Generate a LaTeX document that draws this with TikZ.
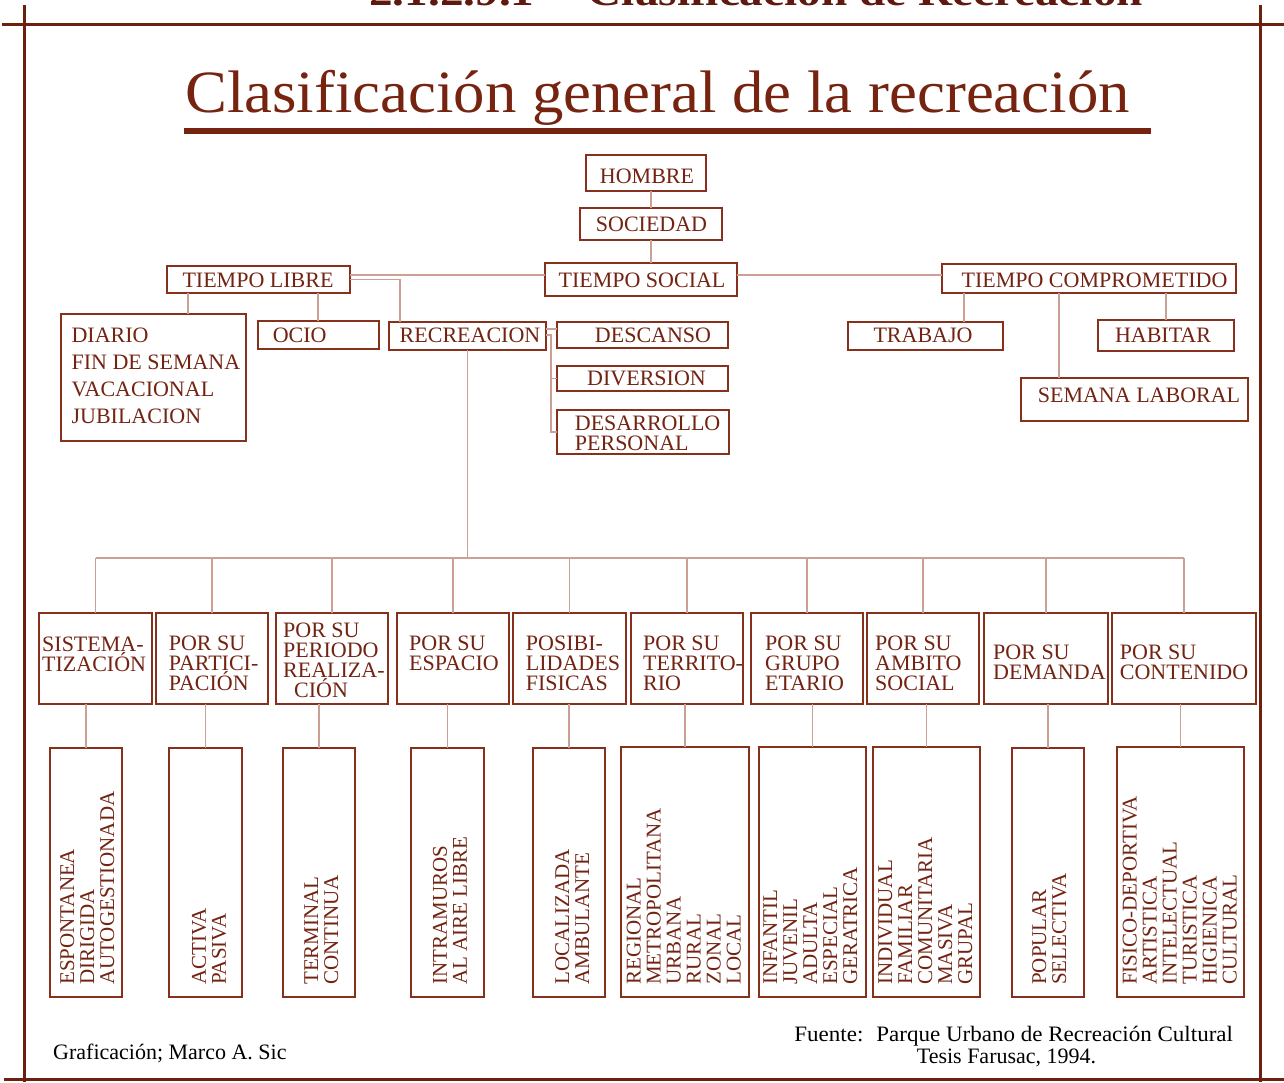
\documentclass[tikz,border=0pt]{standalone}
\usepackage{fontspec}
\setmainfont{Liberation Serif}
\newfontfamily\titlefont{Liberation Serif}[FakeStretch=1.046]
\newfontfamily\headfont{Liberation Serif}[FakeStretch=1.18]
\usetikzlibrary{fit}
\definecolor{framec}{RGB}{110,32,14}
\definecolor{titlec}{RGB}{118,36,16}
\definecolor{headc}{RGB}{95,25,15}
\definecolor{boxc}{RGB}{135,48,28}
\definecolor{txtc}{RGB}{115,35,18}
\definecolor{connc}{RGB}{205,160,150}
\begin{document}
\begin{tikzpicture}[x=1pt,y=-1pt,
  boxn/.style={draw=boxc, line width=1.9pt, inner sep=0pt, outer sep=0pt},
  conn/.style={draw=connc, line width=1.3pt},
  lbl/.style={text=txtc, inner sep=0pt, font=\fontsize{22}{20}\selectfont},
  cattxt/.style={lbl, align=left, anchor=north west},
  leaf/.style={text=txtc, inner sep=0pt, font=\fontsize{21}{20}\selectfont, align=left, rotate=90, anchor=north west},
  framel/.style={draw=framec, line width=3pt},
  foot/.style={text=black, inner sep=0pt, font=\fontsize{22}{22}\selectfont}
]
\useasboundingbox (0,0) rectangle (1284,1082);
\fill[white] (0,0) rectangle (1284,1082);

% frame
\draw[framel] (2,24.5) -- (1284,24.5);
\draw[framel] (4,1079) -- (1284,1079);
\draw[framel] (24.5,5) -- (24.5,1082);
\draw[framel] (1260,5) -- (1260,1082);

% cut-off heading (cropped at the top edge, as in the reference)
\node[anchor=base west, inner sep=0pt, text=headc, font=\headfont\fontsize{40}{40}\selectfont\bfseries] (head1) at (369,5) {2.1.2.9.1};
\node[anchor=base east, inner sep=0pt, text=headc, font=\headfont\fontsize{40}{40}\selectfont\bfseries] (head2) at (1143,5) {Clasificación de Recreación};

% title
\node[anchor=base, inner sep=0pt, text=titlec, font=\titlefont\fontsize{60}{62}\selectfont] (title) at (657.5,112) {Clasificación general de la recreación};
\draw[titlec, line width=6pt] (184,131.3) -- (1150.7,131.3);

% top boxes
\node[boxn, fit={(586,155) (706,191)}] (hombre) {};
\node[boxn, fit={(580,208) (722,240)}] (sociedad) {};
\node[boxn, fit={(545,263) (737,296)}] (tsocial) {};
\node[boxn, fit={(167,266) (350,293)}] (tlibre) {};
\node[boxn, fit={(61,314) (246,441)}] (diario) {};
\node[boxn, fit={(258,321) (379,349)}] (ocio) {};
\node[boxn, fit={(389,322) (546,350)}] (recre) {};
\node[boxn, fit={(557,322) (728,348)}] (descanso) {};
\node[boxn, fit={(557,366) (728,391)}] (diversion) {};
\node[boxn, fit={(557,410) (729,454)}] (desarrollo) {};
\node[boxn, fit={(942,264) (1236,293)}] (tcomp) {};
\node[boxn, fit={(848,322) (1003,350)}] (trabajo) {};
\node[boxn, fit={(1098,320) (1234,351)}] (habitar) {};
\node[boxn, fit={(1021,378) (1248,421)}] (semana) {};

% top labels
\node[lbl, anchor=base] (t-hombre) at (647,183) {HOMBRE};
\node[lbl, anchor=base] (t-soc) at (651.5,231) {SOCIEDAD};
\node[lbl, anchor=base] (t-ts) at (642,287) {TIEMPO SOCIAL};
\node[lbl, anchor=base] (t-tl) at (258,287) {TIEMPO LIBRE};
\node[lbl, anchor=base west] (t-ocio) at (272.6,342.5) {OCIO};
\node[lbl, anchor=base] (t-rec) at (470,342.5) {RECREACION};
\node[lbl, anchor=base] (t-desc) at (653,342) {DESCANSO};
\node[lbl, anchor=base] (t-div) at (646.5,385.7) {DIVERSION};
\node[cattxt] (t-des) at (574.7,415.5) {DESARROLLO\\PERSONAL};
\node[lbl, anchor=base] (t-tc) at (1094.5,287) {TIEMPO COMPROMETIDO};
\node[lbl, anchor=base] (t-trab) at (923,342.3) {TRABAJO};
\node[lbl, anchor=base] (t-hab) at (1163,342.3) {HABITAR};
\node[lbl, anchor=base] (t-sem) at (1139,402.7) {SEMANA LABORAL};
\node[cattxt, font=\fontsize{22}{27}\selectfont] (t-diario) at (71.4,328) {DIARIO\\FIN DE SEMANA\\VACACIONAL\\JUBILACION};

% top connectors
\draw[conn] ([xshift=5pt]hombre.south) -- (sociedad.north);
\draw[conn] (sociedad.south) -- ([xshift=10pt]tsocial.north);
\draw[conn] ([yshift=4.5pt]tlibre.east) -- ([yshift=4.5pt]tsocial.west);
\draw[conn] ([yshift=4.5pt]tsocial.east) -- ([yshift=3.5pt]tcomp.west);
\draw[conn] (tlibre.east) -| ([xshift=-67.5pt]recre.north);
\draw[conn] ([xshift=-70.5pt]tlibre.south) coordinate (a1) -- (a1 |- diario.north);
\draw[conn] ([xshift=59.5pt]tlibre.south) coordinate (a2) -- (a2 |- ocio.north);
\draw[conn] ([yshift=7pt]recre.east) coordinate (a3) -- (a3 -| descanso.west);
\draw[conn] ([yshift=1pt]recre.east) -- ++(5,0) coordinate (br) |- (diversion.west);
\draw[conn] (br) |- (desarrollo.west);
\draw[conn] ([xshift=-125pt]tcomp.south) coordinate (a4) -- (a4 |- trabajo.north);
\draw[conn] ([xshift=-30pt]tcomp.south) coordinate (a5) -- (a5 |- semana.north);
\draw[conn] ([xshift=77pt]tcomp.south) coordinate (a6) -- (a6 |- habitar.north);

% category boxes
\node[boxn, fit={(39,613) (152,704)}] (c1) {};
\node[boxn, fit={(156,613) (268,704)}] (c2) {};
\node[boxn, fit={(276,613) (388,704)}] (c3) {};
\node[boxn, fit={(397,613) (509,704)}] (c4) {};
\node[boxn, fit={(513,613) (626,704)}] (c5) {};
\node[boxn, fit={(631,613) (743,704)}] (c6) {};
\node[boxn, fit={(751,613) (863,704)}] (c7) {};
\node[boxn, fit={(867,613) (979,704)}] (c8) {};
\node[boxn, fit={(984,613) (1108,704)}] (c9) {};
\node[boxn, fit={(1112,613) (1256,704)}] (c10) {};

\node[cattxt] (c1t) at (42,637) {SISTEMA-\\TIZACIÓN};
\node[cattxt] (c2t) at (168.6,635.5) {POR SU\\PARTICI-\\PACIÓN};
\node[cattxt] (c3t) at (283,623) {POR SU\\PERIODO\\REALIZA-\\\hspace*{11pt}CIÓN};
\node[cattxt] (c4t) at (409,636) {POR SU\\ESPACIO};
\node[cattxt] (c5t) at (525.7,635.5) {POSIBI-\\LIDADES\\FISICAS};
\node[cattxt] (c6t) at (643,635.5) {POR SU\\TERRITO-\\RIO};
\node[cattxt] (c7t) at (765,635.5) {POR SU\\GRUPO\\ETARIO};
\node[cattxt] (c8t) at (875,635.5) {POR SU\\AMBITO\\SOCIAL};
\node[cattxt] (c9t) at (993,644.5) {POR SU\\DEMANDA};
\node[cattxt] (c10t) at (1119.7,644.5) {POR SU\\CONTENIDO};

% leaf boxes
\node[boxn, fit={(50,748) (122,997)}] (l1) {};
\node[boxn, fit={(169,748) (242,997)}] (l2) {};
\node[boxn, fit={(283,748) (355,997)}] (l3) {};
\node[boxn, fit={(411,748) (484,997)}] (l4) {};
\node[boxn, fit={(533,748) (605,997)}] (l5) {};
\node[boxn, fit={(621,747) (749,997)}] (l6) {};
\node[boxn, fit={(759,747) (866,997)}] (l7) {};
\node[boxn, fit={(873,747) (980,997)}] (l8) {};
\node[boxn, fit={(1012,748) (1084,997)}] (l9) {};
\node[boxn, fit={(1117,747) (1244,997)}] (l10) {};

\node[leaf] (l1t) at (60,985) {ESPONTANEA\\DIRIGIDA\\AUTOGESTIONADA};
\node[leaf] (l2t) at (191.8,985) {ACTIVA\\PASIVA};
\node[leaf] (l3t) at (304,985) {TERMINAL\\CONTINUA};
\node[leaf] (l4t) at (432.7,985) {INTRAMUROS\\AL AIRE LIBRE};
\node[leaf] (l5t) at (555,985) {LOCALIZADA\\AMBULANTE};
\node[leaf] (l6t) at (626.5,985) {REGIONAL\\METROPOLITANA\\URBANA\\RURAL\\ZONAL\\LOCAL};
\node[leaf] (l7t) at (763,985) {INFANTIL\\JUVENIL\\ADULTA\\ESPECIAL\\GERATRICA};
\node[leaf] (l8t) at (878,985) {INDIVIDUAL\\FAMILIAR\\COMUNITARIA\\MASIVA\\GRUPAL};
\node[leaf] (l9t) at (1032,985) {POPULAR\\SELECTIVA};
\node[leaf] (l10t) at (1122.5,985) {FISICO-DEPORTIVA\\ARTISTICA\\INTELECTUAL\\TURISTICA\\HIGIENICA\\CULTURAL};

% lower connectors
\coordinate (bus) at (467.5,558);
\draw[conn] (recre.south) -- (recre.south |- bus);
\draw[conn] (c1.north |- bus) -- (c10.north |- bus);
\foreach \i in {1,...,10} {
  \draw[conn] (c\i.north |- bus) -- (c\i.north);
  \draw[conn] (l\i.north) -- (l\i.north |- c\i.south);
}

% footer
\node[foot, anchor=base west] (graf) at (53,1059.5) {Graficación; Marco A. Sic};
\node[foot, anchor=base, font=\titlefont\fontsize{22}{22}\selectfont] (fuente1) at (1013.7,1041.7) {Fuente:\hspace{13pt}Parque Urbano de Recreación Cultural};
\node[foot, anchor=base] (fuente2) at (1006.5,1063) {Tesis Farusac, 1994.};
\end{tikzpicture}
\end{document}
